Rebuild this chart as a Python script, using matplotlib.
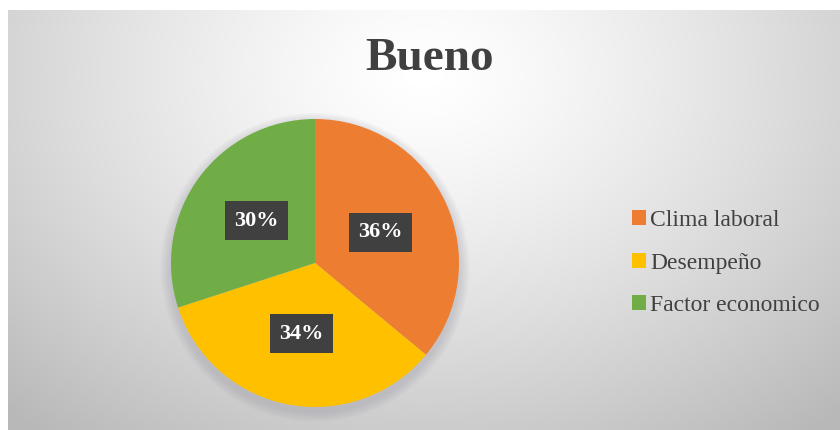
import numpy as np
import matplotlib.pyplot as plt
import matplotlib.patheffects as pe
from matplotlib.patches import Circle

title = 'Bueno'
labels = ['Clima laboral', 'Desempeño', 'Factor economico']
values = [36, 34, 30]
colors = ['#ED7D31', '#FFC000', '#70AD47']

W, H = 840, 430
fig = plt.figure(figsize=(W / 100, H / 100), dpi=100)
fig.patch.set_facecolor('white')

# chart area background: light radial gradient
bg = fig.add_axes([8 / W, 0, (W - 8) / W, (H - 10) / H])
yy, xx = np.mgrid[0:1:200j, 0:1:400j]
d = np.sqrt(((xx - 0.5) / 0.75) ** 2 + ((yy - 0.15) / 1.1) ** 2)
shade = 1.0 - 0.28 * np.clip(d, 0, 1) ** 1.3
bg.imshow(shade, cmap='gray', vmin=0, vmax=1, aspect='auto',
          extent=[0, 1, 1, 0], interpolation='bicubic')
bg.set_axis_off()

fig.text(430 / W, 1 - 59 / H, title, ha='center', va='center',
         fontsize=34, fontweight='bold', family='Liberation Serif', color='#404040')

cx, cy, r = 315, 263, 144
ax = fig.add_axes([(cx - r) / W, (H - cy - r) / H, 2 * r / W, 2 * r / H])
ax.set_axis_off()
# soft shadow under the pie
for k in range(6):
    ax.add_patch(Circle((0, -0.03), 1.0 + 0.012 * (6 - k), color='#8a8a9a',
                        alpha=0.05, lw=0, clip_on=False))
wedges, _, autotexts = ax.pie(
    values, colors=colors, startangle=90, counterclock=False,
    autopct='%d%%', pctdistance=0.5, radius=1.0,
    wedgeprops=dict(linewidth=0))
for t in autotexts:
    t.set_color('white')
    t.set_fontsize(16)
    t.set_fontweight('bold')
    t.set_family('Liberation Serif')
    t.set_bbox(dict(boxstyle='square,pad=0.42', facecolor='#404040', edgecolor='none'))
ax.set_xlim(-1, 1)
ax.set_ylim(-1, 1)
ax.set_aspect('equal')

leg = fig.legend(wedges, labels, loc='center left', bbox_to_anchor=(611 / W, 1 - 263 / H),
                 frameon=False, handlelength=0.6, handleheight=0.6, handletextpad=0.15,
                 labelspacing=0.9, prop={'family': 'Liberation Serif', 'size': 17})
for t in leg.get_texts():
    t.set_color('#404040')

fig.savefig('out.png', dpi=100)
